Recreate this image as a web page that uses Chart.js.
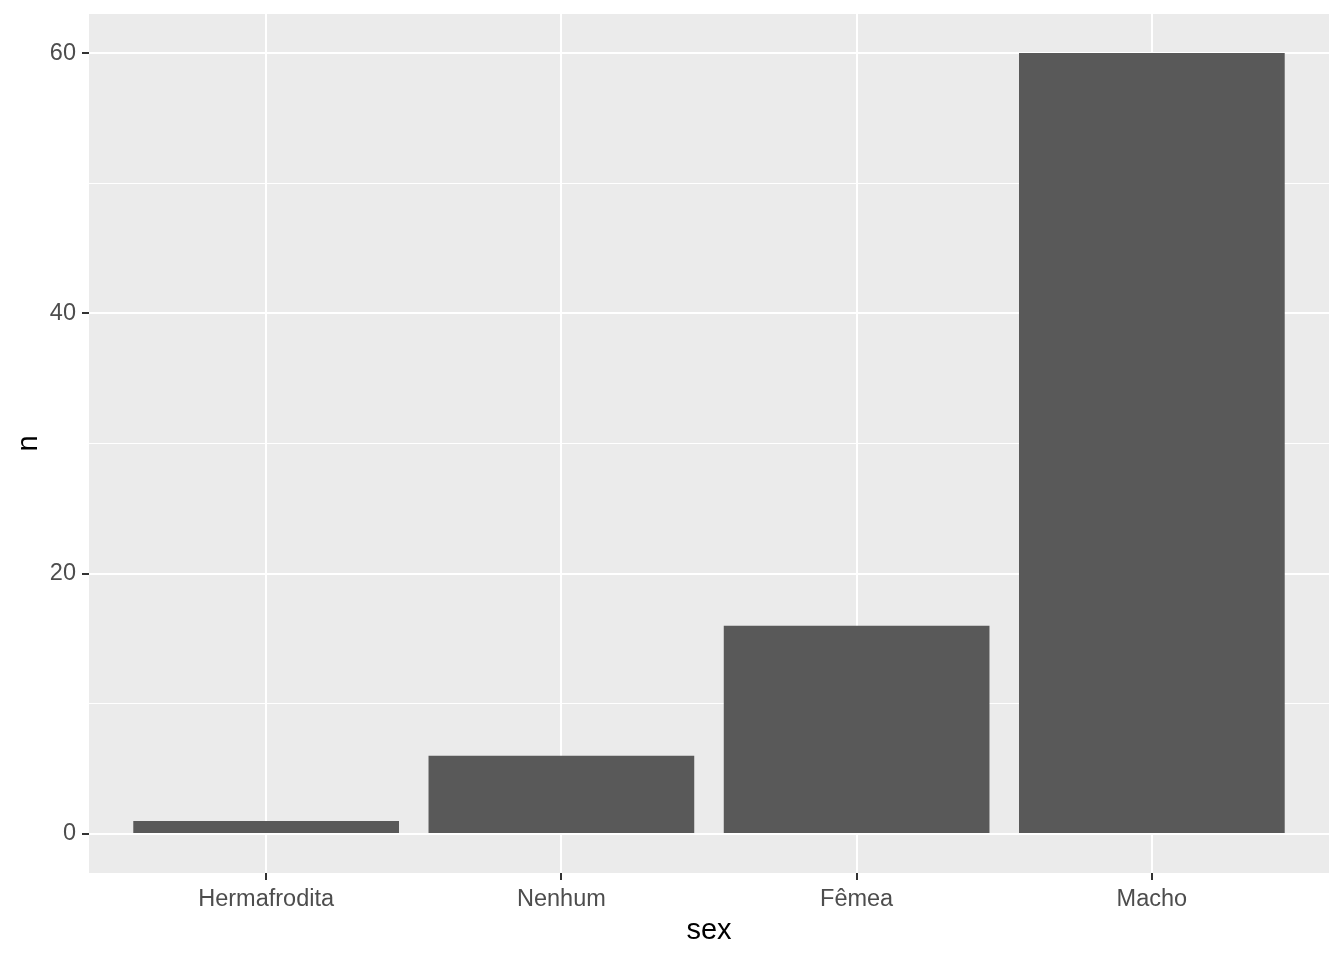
<!DOCTYPE html>
<html>
<head>
<meta charset="utf-8">
<script src="https://cdn.jsdelivr.net/npm/chart.js@4/dist/chart.umd.min.js"></script>
<style>
  html, body { margin: 0; padding: 0; background: #ffffff; }
  #wrap { width: 1344px; height: 960px; }
</style>
</head>
<body>
<div id="wrap"><canvas id="chart" width="1344" height="960"></canvas></div>
<script>
const categories = ["Hermafrodita", "Nenhum", "Fêmea", "Macho"];
const counts = [1, 6, 16, 60];
const yMajorTicks = [0, 20, 40, 60];
const yAllTicks = [0, 10, 20, 30, 40, 50, 60];

// grey panel behind the plot, ggplot style
const panelBg = {
  id: "panelBg",
  beforeDraw(chart) {
    const { ctx, chartArea: a } = chart;
    ctx.save();
    ctx.fillStyle = "#EBEBEB";
    ctx.fillRect(a.left, a.top, a.right - a.left, a.bottom - a.top);
    ctx.restore();
  },
};

const ctx = document.getElementById("chart").getContext("2d");
new Chart(ctx, {
  type: "bar",
  data: {
    datasets: [
      {
        label: "n",
        data: counts.map((v, i) => ({ x: i, y: v })),
        backgroundColor: "#595959",
        borderWidth: 0,
        categoryPercentage: 1,
        barPercentage: 0.9,
      },
    ],
  },
  options: {
    responsive: false,
    animation: false,
    layout: { padding: { top: 14, right: 15, left: 0, bottom: 0 } },
    plugins: { legend: { display: false }, tooltip: { enabled: false } },
    scales: {
      x: {
        type: "linear",
        min: -0.6,
        max: 3.6,
        offset: false,
        afterBuildTicks(scale) {
          scale.ticks = categories.map((c, i) => ({ value: i }));
        },
        afterFit(scale) {
          scale.height = 87;
          scale.paddingLeft = 0;
          scale.paddingRight = 0;
        },
        border: { display: false },
        grid: {
          offset: false,
          color: "#FFFFFF",
          lineWidth: 2,
          tickColor: "#333333",
          tickLength: 7,
          tickWidth: 2,
        },
        ticks: {
          color: "#4D4D4D",
          font: { family: "Liberation Sans, Arial", size: 23.5 },
          padding: 5,
          maxRotation: 0,
          autoSkip: false,
          callback: (v) => categories[v],
        },
        title: {
          display: true,
          text: "sex",
          color: "#000000",
          font: { family: "Liberation Sans, Arial", size: 29 },
          padding: { top: 0, bottom: 12 },
        },
      },
      y: {
        min: -3,
        max: 63,
        afterBuildTicks(scale) {
          scale.ticks = yAllTicks.map((v) => ({ value: v }));
        },
        afterFit(scale) {
          scale.width = 89;
          scale.paddingTop = 0;
          scale.paddingBottom = 0;
        },
        border: { display: false },
        grid: {
          color: "#FFFFFF",
          lineWidth: (c) => (yMajorTicks.includes(c.tick && c.tick.value) ? 2 : 1),
          tickColor: (c) => (yMajorTicks.includes(c.tick && c.tick.value) ? "#333333" : "rgba(0,0,0,0)"),
          tickLength: 7,
          tickWidth: 2,
        },
        ticks: {
          color: "#4D4D4D",
          font: { family: "Liberation Sans, Arial", size: 23.5 },
          padding: 6,
          autoSkip: false,
          callback: (v) => (yMajorTicks.includes(v) ? String(v) : ""),
        },
        title: {
          display: true,
          text: "n",
          color: "#000000",
          font: { family: "Liberation Sans, Arial", size: 29 },
          padding: { top: 12, bottom: 0 },
        },
      },
    },
  },
  plugins: [panelBg],
});
</script>
</body>
</html>
